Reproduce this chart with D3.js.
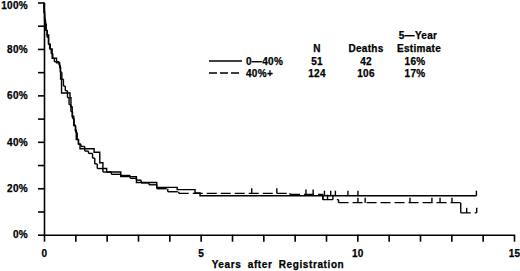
<!DOCTYPE html>
<html lang="en">
<head>
  <meta charset="UTF-8">
  <title>Survival by group - D3</title>
  <script src="https://d3js.org/d3.v7.min.js"></script>
  <style>
    body {
      margin: 0;
      background-color: #fff;
    }
    svg text {
      font-family: "Liberation Sans", Arial, sans-serif;
      font-weight: bold;
      font-size: 10px;
      fill: #000;
      stroke: #000;
      stroke-width: 0.25px;
      letter-spacing: 0.3px;
    }
    .axis path,
    .axis line {
      stroke: #000;
      stroke-width: 1.6;
    }
    .curve {
      fill: none;
      stroke: #000;
      stroke-width: 1.4;
    }
  </style>
</head>
<body>
  <script>
    // survival steps: [years, percent]
    var lowGroup = [
      [0, 100], [0, 96], [0.02, 92], [0.05, 88], [0.1, 86], [0.15, 82], [0.2, 80],
      [0.26, 76], [0.4, 74], [0.5, 72], [0.53, 67], [0.56, 61], [0.83, 59], [0.86, 55],
      [0.9, 51], [0.95, 47], [1.0, 45], [1.03, 41], [1.1, 39], [1.15, 37], [1.6, 35.5],
      [1.78, 31], [1.88, 28.5], [2.0, 27], [2.45, 25], [2.95, 22.5], [3.6, 20.4],
      [4.25, 19.4], [4.82, 18], [4.98, 16.8], [13.8, 16.8]
    ];
    var highGroup = [
      [0, 100], [0, 97], [0.01, 95], [0.02, 93], [0.04, 91], [0.07, 88], [0.1, 85],
      [0.14, 82], [0.18, 80], [0.23, 78], [0.28, 76], [0.33, 74.5], [0.48, 73],
      [0.52, 70], [0.57, 67], [0.62, 64], [0.68, 62], [0.75, 59], [0.8, 56], [0.86, 53],
      [0.91, 50], [0.96, 47], [1.01, 44], [1.06, 41], [1.1, 39], [1.18, 38], [1.3, 36],
      [1.42, 35], [1.55, 33], [1.62, 30.5], [1.7, 28.5], [1.88, 27], [2.15, 26],
      [2.45, 25.5], [2.75, 24.3], [2.95, 23.5], [3.1, 22.3], [3.35, 21.5], [3.6, 19.8],
      [3.95, 18.5], [4.3, 17.8], [7.85, 17.3], [8.9, 15.1], [9.4, 13.8], [13.3, 9.4],
      [13.81, 9.4]
    ];
    // censored times
    var lowCensor = [8.95, 9.15, 9.3, 9.7, 10.02, 13.8];
    var highCensor = [6.63, 7.43, 8.36, 8.59, 8.9, 9.05, 9.22, 10.02, 10.25, 11.68,
                      12.38, 12.64, 13.02, 13.49, 13.81];

    var legendHead = ["N", "Deaths", "Estimate"];
    var legendLabels = ["0\u201440%", "40%+"];
    var legendN = [51, 124];
    var legendDeaths = [42, 106];
    var legendEstimate = ["16%", "17%"];

    var width = 520, height = 271;

    var svg = d3.select("body").append("svg")
      .attr("width", width)
      .attr("height", height);

    var x = d3.scaleLinear().domain([0, 15]).range([44, 514]);
    var y = d3.scaleLinear().domain([0, 100]).range([234.7, 2.5]);

    // Axe Y
    svg.append("g")
      .attr("class", "axis")
      .attr("transform", "translate(" + x(0) + ",0)")
      .call(d3.axisLeft(y)
        .tickValues(d3.range(0, 101, 10))
        .tickSize(6)
        .tickSizeOuter(0)
        .tickPadding(10)
        .tickFormat(d => d % 20 === 0 ? d + "%" : ""));

    // Axe X
    svg.append("g")
      .attr("class", "axis")
      .attr("transform", "translate(0," + y(0) + ")")
      .call(d3.axisBottom(x)
        .tickValues(d3.range(0, 16, 1))
        .tickSize(7)
        .tickSizeOuter(0)
        .tickPadding(8)
        .tickFormat(d => d % 5 === 0 ? d : ""));

    svg.selectAll(".axis text")
      .style("font-size", "10px")
      .attr("stroke", "#000");

    // keep the top label inside the picture
    svg.selectAll(".axis .tick text")
      .filter(d => d === 100)
      .attr("dy", "0.62em");

    svg.append("text")
      .attr("x", 278)
      .attr("y", 267.5)
      .attr("text-anchor", "middle")
      .style("letter-spacing", "0.6px")
      .style("word-spacing", "3px")
      .text("Years after Registration");

    // solid curve
    var stepLine = d3.line()
      .x(d => x(d[0]))
      .y(d => y(d[1]))
      .curve(d3.curveStepAfter);

    svg.append("path")
      .datum(lowGroup)
      .attr("class", "curve")
      .attr("d", stepLine);

    // dashed curve: each step piece drawn on its own so short pieces stay solid
    var segs = [];
    for (var i = 1; i < highGroup.length; i++) {
      var a = highGroup[i - 1], b = highGroup[i];
      if (b[0] > a[0]) segs.push([a[0], a[1], b[0], a[1]]);
      if (b[1] !== a[1]) segs.push([b[0], a[1], b[0], b[1]]);
    }
    svg.selectAll(".dseg")
      .data(segs)
      .enter()
      .append("line")
      .attr("class", "curve dseg")
      .attr("x1", d => x(d[0]))
      .attr("y1", d => y(d[1]))
      .attr("x2", d => x(d[2]))
      .attr("y2", d => y(d[3]))
      .attr("stroke-dasharray", "10,4");

    function survAt(steps, t) {
      var s = steps[0][1];
      steps.forEach(function(p) { if (p[0] <= t) s = p[1]; });
      return s;
    }

    function drawCensor(times, steps) {
      svg.selectAll(null)
        .data(times)
        .enter()
        .append("line")
        .attr("class", "curve")
        .attr("x1", d => x(d))
        .attr("x2", d => x(d))
        .attr("y1", d => y(survAt(steps, d)))
        .attr("y2", d => y(survAt(steps, d)) - 5);
    }
    drawCensor(lowCensor, lowGroup);
    drawCensor(highCensor, highGroup);

    // Légende
    var rowY = [61, 73];
    svg.append("text").attr("x", 418).attr("y", 38.5)
      .attr("text-anchor", "middle").text("5\u2014Year");
    var headX = [317, 366, 419];
    legendHead.forEach(function(h, i) {
      svg.append("text").attr("x", headX[i]).attr("y", 51.5)
        .attr("text-anchor", "middle").text(h);
    });

    rowY.forEach(function(ry, i) {
      svg.append("line")
        .attr("class", "curve")
        .attr("x1", 209).attr("x2", 242)
        .attr("y1", ry).attr("y2", ry)
        .attr("stroke-dasharray", i === 0 ? null : "8,3");
      svg.append("text").attr("x", 246).attr("y", ry + 3.5).text(legendLabels[i]);
      svg.append("text").attr("x", 317).attr("y", ry + 3.5)
        .attr("text-anchor", "middle").text(legendN[i]);
      svg.append("text").attr("x", 366).attr("y", ry + 3.5)
        .attr("text-anchor", "middle").text(legendDeaths[i]);
      svg.append("text").attr("x", 415).attr("y", ry + 3.5)
        .attr("text-anchor", "middle").text(legendEstimate[i]);
    });
  </script>
</body>
</html>
